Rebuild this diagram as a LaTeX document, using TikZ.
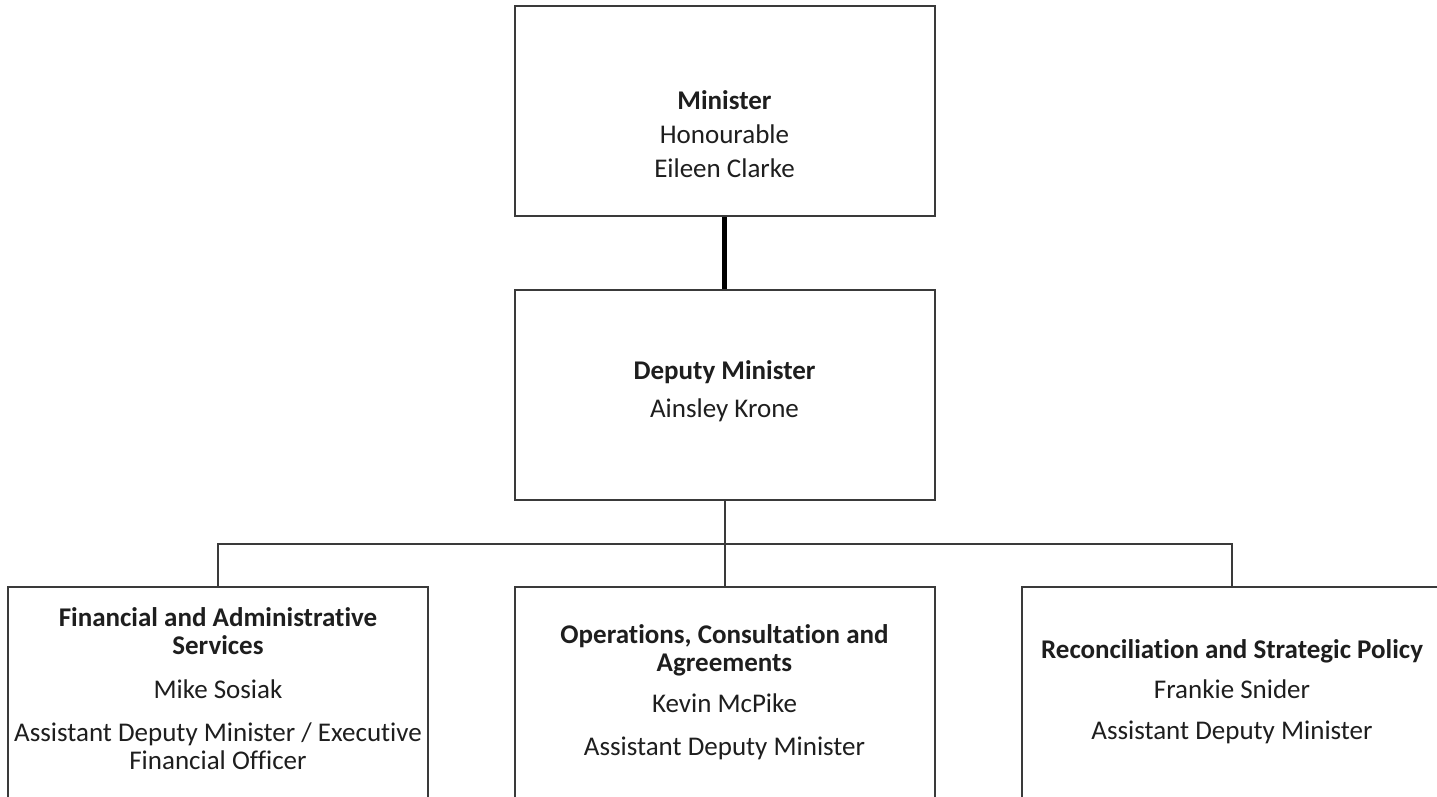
\documentclass[tikz,border=0pt]{standalone}
\usepackage{fontspec}
\setmainfont{Carlito}[Ligatures=NoCommon]
\definecolor{boxline}{HTML}{3A3A3A}
\definecolor{txt}{HTML}{1E1E1E}
\begin{document}
\begin{tikzpicture}[x=1pt,y=-1pt,
  orgbox/.style={draw=boxline, line width=2pt, fill=white, rectangle, minimum width=420pt, inner sep=0pt},
  label/.style={align=center, text=txt, font=\fontsize{27}{28}\selectfont, inner sep=0pt},
  conn/.style={draw=boxline, line width=2pt},
  thickconn/.style={draw=black, line width=5pt}]
\useasboundingbox (0,0) rectangle (1437,796);
\clip (0,0) rectangle (1437,796);
% boxes
\node[orgbox, minimum height=210pt] (min) at (724.5,111) {};
\node[orgbox, minimum height=210pt] (dep) at (724.5,395) {};
\node[orgbox, minimum height=260pt] (fin) at (218,717) {};
\node[orgbox, minimum height=260pt] (mid) at (724.5,717) {};
\node[orgbox, minimum height=260pt] (rec) at (1232,717) {};
% connectors
\coordinate (bus) at (724.5,544);
\draw[thickconn] (min.south) -- (dep.north);
\draw[conn] (dep.south) -- (mid.north);
\draw[conn] (fin.north) |- (bus) -| (rec.north);
% texts
\node[label] (tmin) at (724.5,134) {\textbf{Minister}\\[6pt]Honourable\\[6pt]Eileen Clarke};
\node[label] (tdep) at (724.5,391) {\textbf{Deputy Minister}\\[10pt]Ainsley Krone};
\node[label] (tfin) at (218,689) {\textbf{Financial and Administrative}\\\textbf{Services}\\[16pt]Mike Sosiak\\[15pt]Assistant Deputy Minister / Executive\\Financial Officer};
\node[label] (tmid) at (724.5,692) {\textbf{Operations, Consultation and}\\\textbf{Agreements}\\[13pt]Kevin McPike\\[15pt]Assistant Deputy Minister};
\node[label] (trec) at (1232,692) {\textbf{Reconciliation and Strategic Policy}\\[12pt]Frankie Snider\\[13pt]Assistant Deputy Minister};
\end{tikzpicture}
\end{document}
